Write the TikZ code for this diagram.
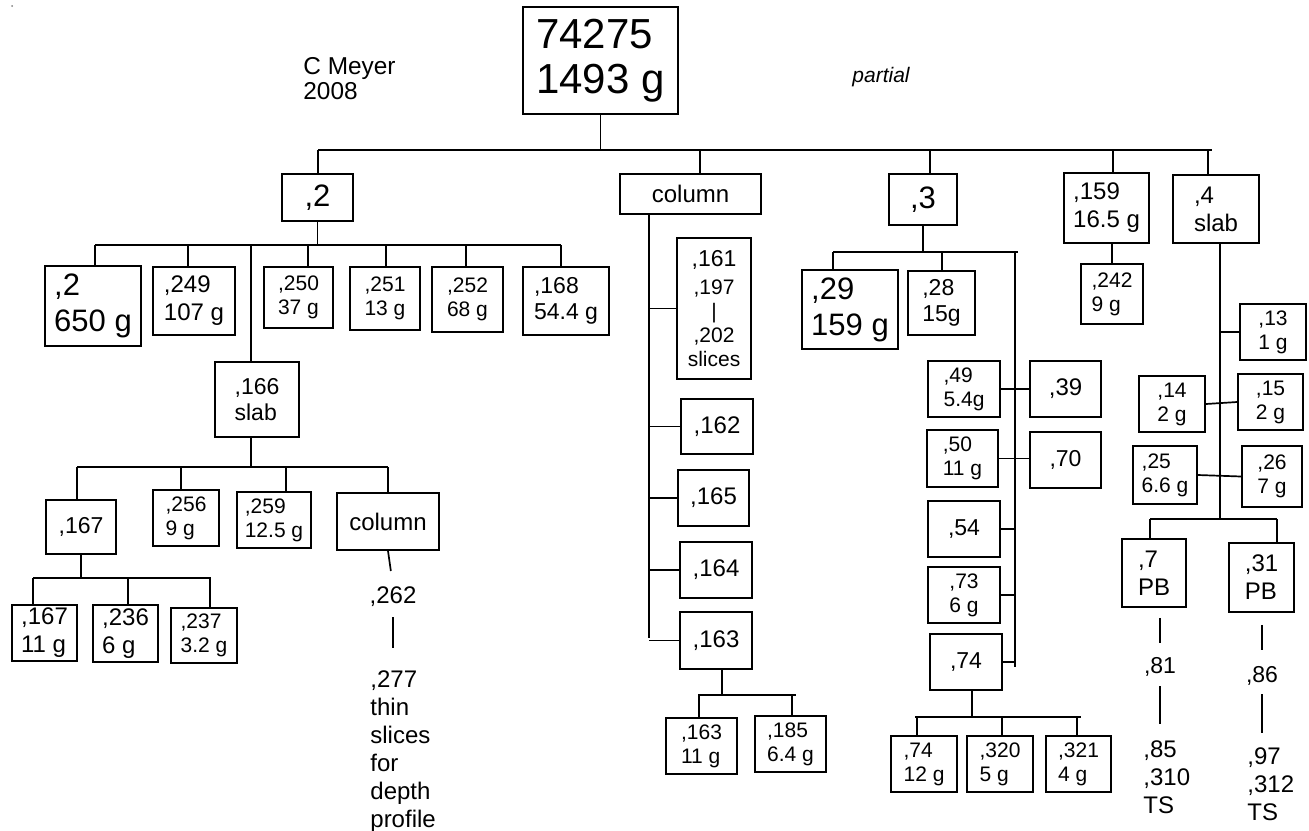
\documentclass[tikz,border=0pt]{standalone}
\usepackage{fontspec}
\setmainfont{Liberation Sans}
\tikzset{
  box/.style={draw, line width=0.85pt, inner sep=0pt, align=left},
  sz/.style 2 args={minimum width=#1*0.5pt, minimum height=#2*0.5pt},
  lbl/.style={inner sep=0pt, align=left},
  tree/.style={line width=0.85pt},
  fR/.style={font=\fontsize{21}{22.5}\selectfont},
  fL/.style={font=\fontsize{15.5}{18}\selectfont},
  fM/.style={font=\fontsize{12}{14}\selectfont},
  fN/.style={font=\fontsize{11.5}{13}\selectfont},
  fS/.style={font=\fontsize{10.5}{12}\selectfont},
}
\begin{document}
\begin{tikzpicture}[x=0.5pt,y=-0.5pt]
\useasboundingbox (0,0) rectangle (1309,830);
\fill[black!50] (12,6) circle[radius=0.5pt];

% top of the tree
\node[box,fR,sz={155}{107}] (root) at (600.5,60.5) {74275\\1493 g};
\node[lbl,font=\fontsize{12.2}{12.5}\selectfont,anchor=north west] (author) at (303,57) {C Meyer\\2008};
\node[lbl,font=\fontsize{10.5}{12}\selectfont\itshape] (note) at (881,77) {partial};

% first split
\node[box,fL,sz={71}{47}] (p2) at (317.5,197.5) {,2};
\node[box,fM,sz={141}{40}] (col) at (690.5,194) {column};
\node[box,fL,sz={68}{51}] (p3) at (923,199.5) {,3};
\node[box,fM,sz={85}{70}] (p159) at (1106.5,208) {,159\\16.5 g};
\node[box,fM,sz={86}{68}] (p4) at (1216,209) {,4\\slab};
\coordinate (barRl) at (318,150); \coordinate (barRr) at (1212,150);
\draw[tree] (root.south) -- (root.south |- barRl);
\draw[tree] (barRl) -- (barRr);
\foreach \dx/\kid in {318/p2,700/col,930/p3,1113/p159,1208/p4}
  {\coordinate (d) at (\dx,150); \draw[tree] (d) -- (d |- \kid.north);}

% pieces of ,2
\node[box,fL,sz={96}{80}] (b2) at (93,306) {,2\\650 g};
\node[box,fM,sz={82}{68}] (b249) at (194,301) {,249\\107 g};
\node[box,fS,sz={69}{61}] (b250) at (298.5,297.5) {,250\\37 g};
\node[box,fS,sz={70}{63}] (b251) at (385,298.5) {,251\\13 g};
\node[box,fS,sz={71}{65}] (b252) at (467.5,299.5) {,252\\68 g};
\node[box,fN,sz={86}{68}] (b168) at (566,301) {,168\\54.4 g};
\node[box,fN,sz={84}{75}] (b166) at (257,399.5) {,166\\slab};
\coordinate (barAl) at (95,245); \coordinate (barAr) at (561,245);
\draw[tree] (p2.south) -- (p2.south |- barAl);
\draw[tree] (barAl) -- (barAr);
\foreach \dx/\kid in {95/b2,188/b249,251/b166,308/b250,386/b251,466/b252,561/b168}
  {\coordinate (d) at (\dx,245); \draw[tree] (d) -- (d |- \kid.north);}

% slab ,166
\node[box,fN,sz={70}{54}] (b167) at (81,527) {,167};
\node[box,fS,sz={66}{56}] (b256) at (186,518) {,256\\9 g};
\node[box,fS,sz={74}{56}] (b259) at (274,520) {,259\\12.5 g};
\node[box,fM,sz={102}{57}] (col2) at (388,521.5) {column};
\coordinate (barBl) at (77,467); \coordinate (barBr) at (388,467);
\draw[tree] ([xshift=-3pt]b166.south) -- ([xshift=-3pt]b166.south |- barBl);
\draw[tree] (barBl) -- (barBr);
\foreach \dx/\kid in {77/b167,181/b256,286/b259,388/col2}
  {\coordinate (d) at (\dx,467); \draw[tree] (d) -- (d |- \kid.north);}

\node[box,fM,sz={65}{56}] (b167b) at (44.5,633) {,167\\11 g};
\node[box,fM,sz={65}{57}] (b236) at (125.5,633.5) {,236\\6 g};
\node[box,fS,sz={66}{55}] (b237) at (204,635.5) {,237\\3.2 g};
\coordinate (barCl) at (33,578); \coordinate (barCr) at (211,578);
\draw[tree] (b167.south) -- (b167.south |- barCl);
\draw[tree] (barCl) -- (barCr);
\foreach \dx/\kid in {33/b167b,128/b236,210/b237}
  {\coordinate (d) at (\dx,578); \draw[tree] (d) -- (d |- \kid.north);}

\node[lbl,fM,anchor=base] (t262) at (393,603) {,262};
\node[lbl,fM,anchor=north west] (t277) at (370,670) {,277\\thin\\slices\\for\\depth\\profile};
\draw[tree,shorten >=7.5pt] (col2.south) -- (t262.north);
\draw[tree,shorten <=5.5pt,shorten >=11pt] (t262.south) -- (t262.south |- t277.north);

% column
\node[box,fS,align=center,sz={74}{141}] (b161) at (714,308.5)
  {{\fontsize{11.5}{13}\selectfont ,161}\\[2pt],197\\|\\,202\\slices};
\node[box,fM,sz={72}{55}] (b162) at (717,426.5) {,162};
\node[box,fM,sz={71}{56}] (b165) at (713.5,498) {,165};
\node[box,fM,sz={72}{56}] (b164) at (716,570) {,164};
\node[box,fM,sz={72}{57}] (b163) at (716,640.5) {,163};
\coordinate (colv) at (649,638);
\draw[tree] (colv |- col.south) -- (colv);
\foreach \kid in {b161,b162,b165,b164,b163}
  \draw[tree] (\kid.west) -- (\kid.west -| colv);

\node[box,fS,sz={71}{56}] (b163b) at (701.5,746) {,163\\11 g};
\node[box,fS,sz={71}{56}] (b185) at (790.5,744) {,185\\6.4 g};
\coordinate (barDl) at (698,695); \coordinate (barDr) at (796,695);
\draw[tree] ([xshift=3pt]b163.south) -- ([xshift=3pt]b163.south |- barDl);
\draw[tree] (barDl) -- (barDr);
\foreach \dx/\kid in {699/b163b,792/b185}
  {\coordinate (d) at (\dx,695); \draw[tree] (d) -- (d |- \kid.north);}

% pieces of ,3
\node[box,fL,sz={96}{79}] (b29) at (850,309.5) {,29\\159 g};
\node[box,fN,sz={67}{64}] (b28) at (941.5,303) {,28\\15g};
\coordinate (barEl) at (833,252); \coordinate (barEr) at (1018,252);
\draw[tree] (p3.south) -- (p3.south |- barEl);
\draw[tree] (barEl) -- (barEr);
\foreach \dx/\kid in {833/b29,942/b28}
  {\coordinate (d) at (\dx,252); \draw[tree] (d) -- (d |- \kid.north);}

\node[box,fS,sz={72}{56}] (b49) at (964,389) {,49\\5.4g};
\node[box,fM,sz={71}{56}] (b39) at (1065.5,389) {,39};
\node[box,fS,sz={71}{57}] (b50) at (962.5,458.5) {,50\\11 g};
\node[box,fN,sz={71}{56}] (b70) at (1065.5,460) {,70};
\node[box,fN,sz={72}{56}] (b54) at (964,529) {,54};
\node[box,fS,sz={72}{56}] (b73) at (964,595) {,73\\6 g};
\node[box,fN,sz={72}{56}] (b74) at (966,662) {,74};
\coordinate (v3t) at (1015,252); \coordinate (v3b) at (1015,667);
\draw[tree] (v3t) -- (v3b);
\draw[tree] (b49.east) -- (b39.west);
\draw[tree] (b50.east) -- (b50.east -| b70.west);
\foreach \kid in {b54,b73,b74}
  \draw[tree] (\kid.east) -- (\kid.east -| v3t);

\node[box,fS,sz={66}{56}] (b74b) at (924,764) {,74\\12 g};
\node[box,fS,sz={66}{56}] (b320) at (1000,764) {,320\\5 g};
\node[box,fS,sz={65}{56}] (b321) at (1078.5,764) {,321\\4 g};
\coordinate (barFl) at (915,717); \coordinate (barFr) at (1081,717);
\draw[tree] ([xshift=3pt]b74.south) -- ([xshift=3pt]b74.south |- barFl);
\draw[tree] (barFl) -- (barFr);
\foreach \dx/\kid in {917/b74b,1002/b320,1077/b321}
  {\coordinate (d) at (\dx,717); \draw[tree] (d) -- (d |- \kid.north);}

% ,159
\node[box,fS,sz={62}{60}] (b242) at (1112,294) {,242\\9 g};
\draw[tree] (b242.north |- p159.south) -- (b242.north);

% slab ,4
\node[box,fS,sz={66}{56}] (b13) at (1273,332) {,13\\1 g};
\node[box,fS,sz={66}{56}] (b14) at (1172,404) {,14\\2 g};
\node[box,fS,sz={65}{56}] (b15) at (1270.5,402) {,15\\2 g};
\node[box,fS,sz={64}{58}] (b25) at (1165,475) {,25\\6.6 g};
\node[box,fS,sz={60}{61}] (b26) at (1272,476.5) {,26\\7 g};
\coordinate (v4) at (1220,519);
\draw[tree] (v4 |- p4.south) -- (v4);
\draw[tree] (b13.west) -- (b13.west -| v4);
\draw[tree] (b14.east) -- (b15.west);
\draw[tree] (b25.east) -- (b26.west);

\node[box,fM,sz={64}{68}] (b7) at (1154,573) {,7\\PB};
\node[box,fM,sz={65}{69}] (b31) at (1261.5,577.5) {,31\\PB};
\coordinate (barGl) at (1150,519); \coordinate (barGr) at (1277,519);
\draw[tree] (barGl) -- (barGr);
\foreach \dx/\kid in {1150/b7,1277/b31}
  {\coordinate (d) at (\dx,519); \draw[tree] (d) -- (d |- \kid.north);}

\node[lbl,fN,anchor=base] (t81) at (1160,673) {,81};
\node[lbl,fM,anchor=north west] (t85) at (1143,740) {,85\\,310\\TS};
\draw[tree,shorten <=5pt,shorten >=6.75pt] (t81.north |- b7.south) -- (t81.north);
\draw[tree,shorten <=5pt,shorten >=8pt] (t81.south) -- (t81.south |- t85.north);

\node[lbl,fN,anchor=base] (t86) at (1262,682) {,86};
\node[lbl,fM,anchor=north west] (t97) at (1247,747) {,97\\,312\\TS};
\draw[tree,shorten <=6pt,shorten >=7.75pt] (t86.north |- b31.south) -- (t86.north);
\draw[tree,shorten <=4.5pt,shorten >=7pt] (t86.south) -- (t86.south |- t97.north);
\end{tikzpicture}
\end{document}
